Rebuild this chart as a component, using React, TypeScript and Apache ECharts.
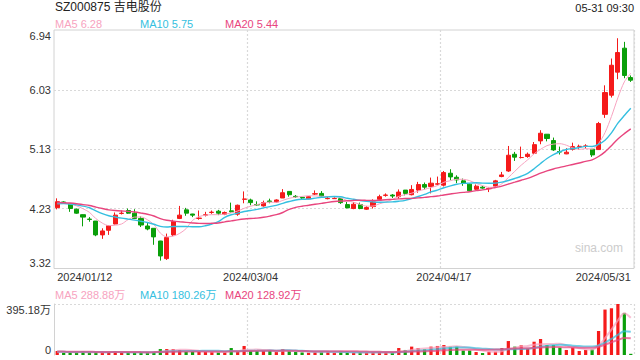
import React, { useEffect, useRef } from "react";
import * as echarts from "echarts";

const dates = [
  "2024/01/12", "2024/01/15", "2024/01/16", "2024/01/17", "2024/01/18", "2024/01/19",
  "2024/01/22", "2024/01/23", "2024/01/24", "2024/01/25", "2024/01/26",
  "2024/01/29", "2024/01/30", "2024/01/31", "2024/02/01", "2024/02/02",
  "2024/02/05", "2024/02/06", "2024/02/07", "2024/02/08",
  "2024/02/19", "2024/02/20", "2024/02/21", "2024/02/22", "2024/02/23",
  "2024/02/26", "2024/02/27", "2024/02/28", "2024/02/29", "2024/03/01",
  "2024/03/04", "2024/03/05", "2024/03/06", "2024/03/07", "2024/03/08",
  "2024/03/11", "2024/03/12", "2024/03/13", "2024/03/14", "2024/03/15",
  "2024/03/18", "2024/03/19", "2024/03/20", "2024/03/21", "2024/03/22",
  "2024/03/25", "2024/03/26", "2024/03/27", "2024/03/28", "2024/03/29",
  "2024/04/01", "2024/04/02", "2024/04/03",
  "2024/04/08", "2024/04/09", "2024/04/10", "2024/04/11", "2024/04/12",
  "2024/04/15", "2024/04/16", "2024/04/17", "2024/04/18", "2024/04/19",
  "2024/04/22", "2024/04/23", "2024/04/24", "2024/04/25", "2024/04/26",
  "2024/04/29", "2024/04/30",
  "2024/05/06", "2024/05/07", "2024/05/08", "2024/05/09", "2024/05/10",
  "2024/05/13", "2024/05/14", "2024/05/15", "2024/05/16", "2024/05/17",
  "2024/05/20", "2024/05/21", "2024/05/22", "2024/05/23", "2024/05/24",
  "2024/05/27", "2024/05/28", "2024/05/29", "2024/05/30", "2024/05/31",
];

// [open, close, low, high]
const ohlc: number[][] = [
  [4.243, 4.334, 4.218, 4.385], [4.33, 4.31, 4.30, 4.34], [4.30, 4.23, 4.18, 4.31],
  [4.22, 4.16, 4.15, 4.23], [4.137, 4.10, 3.96, 4.14], [4.07, 4.065, 4.03, 4.10],
  [4.04, 3.83, 3.81, 4.04], [3.83, 3.89, 3.77, 3.93], [3.90, 3.97, 3.83, 3.98],
  [3.995, 4.13, 3.99, 4.17], [4.155, 4.16, 4.14, 4.20], [4.20, 4.16, 4.15, 4.23],
  [4.16, 4.08, 4.07, 4.22], [4.08, 3.98, 3.95, 4.11], [3.965, 3.92, 3.90, 4.01],
  [3.93, 3.80, 3.68, 3.93], [3.737, 3.51, 3.44, 3.74], [3.47, 3.79, 3.45, 3.85],
  [3.83, 4.035, 3.81, 4.06], [4.08, 4.13, 4.07, 4.27], [4.21, 4.16, 4.12, 4.24],
  [4.147, 4.13, 4.10, 4.15], [4.08, 4.085, 4.06, 4.20], [4.13, 4.135, 4.11, 4.18],
  [4.17, 4.175, 4.15, 4.20], [4.19, 4.16, 4.13, 4.21], [4.145, 4.17, 4.13, 4.185],
  [4.195, 4.18, 4.17, 4.32], [4.145, 4.28, 4.12, 4.29], [4.37, 4.375, 4.31, 4.49],
  [4.36, 4.32, 4.28, 4.38], [4.29, 4.285, 4.27, 4.34], [4.27, 4.32, 4.26, 4.35],
  [4.345, 4.335, 4.31, 4.38], [4.33, 4.36, 4.32, 4.37], [4.39, 4.47, 4.39, 4.525],
  [4.49, 4.44, 4.41, 4.49], [4.415, 4.41, 4.39, 4.435], [4.40, 4.39, 4.37, 4.41],
  [4.378, 4.41, 4.37, 4.42], [4.45, 4.455, 4.435, 4.505], [4.46, 4.42, 4.41, 4.495],
  [4.38, 4.385, 4.37, 4.41], [4.38, 4.385, 4.375, 4.40], [4.38, 4.32, 4.30, 4.38],
  [4.29, 4.24, 4.235, 4.33], [4.23, 4.295, 4.22, 4.33], [4.29, 4.23, 4.22, 4.32],
  [4.22, 4.245, 4.21, 4.27], [4.26, 4.33, 4.23, 4.37], [4.37, 4.41, 4.36, 4.44],
  [4.43, 4.435, 4.41, 4.46], [4.435, 4.42, 4.39, 4.45], [4.41, 4.48, 4.38, 4.52],
  [4.51, 4.46, 4.43, 4.51], [4.44, 4.52, 4.43, 4.585], [4.51, 4.594, 4.47, 4.635],
  [4.594, 4.555, 4.52, 4.625], [4.565, 4.615, 4.46, 4.70], [4.60, 4.605, 4.585, 4.715],
  [4.585, 4.776, 4.565, 4.80], [4.766, 4.71, 4.66, 4.827], [4.705, 4.665, 4.615, 4.735],
  [4.65, 4.615, 4.575, 4.685], [4.60, 4.50, 4.495, 4.61], [4.523, 4.57, 4.513, 4.595],
  [4.555, 4.54, 4.53, 4.575], [4.53, 4.535, 4.48, 4.55], [4.57, 4.65, 4.56, 4.665],
  [4.716, 4.74, 4.705, 4.786], [4.80, 5.039, 4.786, 5.18], [5.054, 5.01, 4.953, 5.09],
  [5.004, 5.005, 4.99, 5.17], [5.02, 5.054, 5.0, 5.08], [5.07, 5.20, 5.055, 5.24],
  [5.257, 5.373, 5.206, 5.419], [5.358, 5.293, 5.25, 5.36], [5.262, 5.12, 5.105, 5.307],
  [5.095, 5.087, 5.05, 5.17], [5.06, 5.085, 5.055, 5.146], [5.13, 5.17, 5.11, 5.23],
  [5.17, 5.175, 5.12, 5.20], [5.175, 5.18, 5.14, 5.206], [5.13, 5.044, 5.014, 5.13],
  [5.125, 5.52, 5.12, 5.545], [5.66, 5.99, 5.606, 6.10], [5.95, 6.405, 5.915, 6.507],
  [6.30, 6.598, 6.193, 6.815], [6.664, 6.25, 6.208, 6.76], [6.218, 6.178, 6.152, 6.25],
];

// closes of the 19 sessions before the first visible one (estimated, for MA warm-up)
const priorCloses = [
  4.36, 4.33, 4.35, 4.38, 4.34, 4.31, 4.33, 4.36, 4.34, 4.30,
  4.27, 4.29, 4.30, 4.28, 4.32, 4.29, 4.31, 4.30, 4.32,
];

// volume, in 万
const volumes = [
  31, 18, 18, 20, 30, 18, 22, 20, 22, 31,
  18, 20, 18, 20, 22, 24, 46, 46, 46, 39,
  26, 26, 24, 26, 24, 21, 21, 54, 26, 70,
  31, 31, 31, 31, 23, 44, 31, 23, 20, 18,
  23, 26, 26, 18, 26, 18, 18, 21, 18, 21,
  23, 18, 18, 54, 39, 65, 54, 44, 65, 70,
  77, 65, 65, 34, 34, 23, 15, 26, 26, 54,
  108, 65, 75, 49, 103, 124, 77, 77, 57, 39,
  59, 31, 39, 44, 186, 352, 362, 395.18, 326, 9.2,
];
const priorVolumes = [
  28, 32, 25, 30, 27, 35, 24, 29, 31, 26,
  22, 25, 28, 24, 21, 26, 23, 25, 22,
];

const priceTicks = [3.32, 4.23, 5.13, 6.03, 6.94];
const volumeTickLabels = ["0", "395.18万"];
const xLabelIndexes = [0, 30, 60, 89];
const xSplitIndexes = [30, 60];

const titleText = "SZ000875 吉电股份";
const timeText = "05-31 09:30";
const priceLegend = ["MA5 6.28", "MA10 5.75", "MA20 5.44"];
const volumeLegend = ["MA5 288.88万", "MA10 180.26万", "MA20 128.92万"];
const maPeriods = [5, 10, 20];

const UP = "#f51a1a";
const DOWN = "#0a9f0a";
const MA_COLORS = ["#f7a3c0", "#35bfe0", "#e8457e"];
const FONT = 'Arial, "Liberation Sans", "Noto Sans CJK SC", sans-serif';

function movingAverage(prior: number[], vals: number[], n: number): number[] {
  const all = prior.concat(vals);
  return vals.map((_, i) => {
    const end = prior.length + i;
    let s = 0;
    for (let k = end - n + 1; k <= end; k++) s += all[k];
    return +(s / n).toFixed(4);
  });
}

export default function App() {
  const ref = useRef<HTMLDivElement>(null);

  useEffect(() => {
    if (!ref.current) return;
    const chart = echarts.init(ref.current, undefined, { renderer: "svg" });
    const closes = ohlc.map((d) => d[1]);
    const candleData = ohlc.map((d) => [d[0], d[1], d[2], d[3]]);
    const volData = volumes.map((v, i) => ({
      value: v,
      itemStyle: { color: ohlc[i][1] >= ohlc[i][0] ? UP : DOWN },
    }));

    const dotted = { type: [2, 2] as any, color: "#d9d9d9", width: 1.2 };

    const priceMA = maPeriods.map((n, k) => ({
      type: "line",
      name: "pMA" + n,
      xAxisIndex: 0,
      yAxisIndex: 0,
      data: movingAverage(priorCloses, closes, n),
      showSymbol: false,
      smooth: 0.3,
      z: 5,
      lineStyle: { color: MA_COLORS[k], width: k === 0 ? 1 : 1.4 },
    }));
    const volMA = maPeriods.map((n, k) => ({
      type: "line",
      name: "vMA" + n,
      xAxisIndex: 1,
      yAxisIndex: 1,
      data: movingAverage(priorVolumes, volumes, n),
      showSymbol: false,
      smooth: 0.3,
      z: 5,
      lineStyle: { color: MA_COLORS[k], width: 2, opacity: 0.7 },
    }));

    const legendTexts = (arr: string[], y: number) =>
      arr.map((t, k) => ({
        type: "text",
        left: 55 + k * 85,
        top: y,
        style: { text: t, fill: MA_COLORS[k], font: `11px ${FONT}` },
      }));

    const option: any = {
      animation: false,
      backgroundColor: "#ffffff",
      textStyle: { fontFamily: FONT },
      grid: [
        { left: 54, right: 6, top: 30, height: 238.5, show: true, borderColor: "#d2d2d2", borderWidth: 1 },
        { left: 54, right: 6, top: 304, height: 51 },
      ],
      xAxis: [
        {
          type: "category",
          gridIndex: 0,
          data: dates,
          boundaryGap: true,
          axisLine: { show: false },
          axisTick: { show: false },
          axisLabel: {
            interval: (i: number) => xLabelIndexes.includes(i),
            color: "#333",
            fontSize: 11,
            margin: 3,
            fontFamily: FONT,
            showMinLabel: true,
            showMaxLabel: true,
            alignMinLabel: "left",
            alignMaxLabel: "right",
          },
          splitLine: { show: true, interval: (i: number) => xSplitIndexes.includes(i), lineStyle: dotted },
        },
        {
          type: "category",
          gridIndex: 1,
          data: dates,
          boundaryGap: true,
          axisLine: { show: false },
          axisTick: { show: false },
          axisLabel: { show: false },
          splitLine: { show: true, interval: (i: number) => xSplitIndexes.includes(i), lineStyle: dotted },
        },
      ],
      yAxis: [
        {
          type: "value",
          gridIndex: 0,
          min: priceTicks[0],
          max: priceTicks[priceTicks.length - 1],
          axisLine: { show: false },
          axisTick: { show: false, customValues: priceTicks },
          axisLabel: {
            customValues: priceTicks,
            formatter: (v: number) => v.toFixed(2),
            color: "#333",
            fontSize: 11,
            margin: 3,
            fontFamily: FONT,
            verticalAlignMinLabel: "bottom",
            verticalAlignMaxLabel: "top",
          },
          splitLine: { show: true, showMinLine: false, showMaxLine: false, lineStyle: dotted },
        },
        {
          type: "value",
          gridIndex: 1,
          min: 0,
          max: 395.18,
          interval: 395.18,
          axisLine: { show: true, lineStyle: { color: "#d2d2d2" } },
          axisTick: { show: false },
          axisLabel: {
            formatter: (v: number) => (v > 0 ? volumeTickLabels[1] : volumeTickLabels[0]),
            color: "#333",
            fontSize: 11,
            margin: 3,
            fontFamily: FONT,
            verticalAlignMinLabel: "bottom",
            verticalAlignMaxLabel: "top",
          },
          splitLine: { show: true, showMinLine: false, lineStyle: dotted },
        },
      ],
      series: [
        {
          type: "candlestick",
          xAxisIndex: 0,
          yAxisIndex: 0,
          data: candleData,
          barWidth: "70%",
          z: 3,
          itemStyle: { color: UP, color0: DOWN, borderColor: UP, borderColor0: DOWN, borderWidth: 1 },
        },
        ...priceMA,
        {
          type: "bar",
          xAxisIndex: 1,
          yAxisIndex: 1,
          data: volData,
          barWidth: "50%",
          z: 3,
        },
        ...volMA,
      ],
      graphic: [
        { type: "text", left: 55, top: 1, style: { text: titleText, fill: "#222", font: `12px ${FONT}` } },
        { type: "text", right: 6, top: 2, style: { text: timeText, fill: "#222", font: `11px ${FONT}` } },
        ...legendTexts(priceLegend, 18),
        ...legendTexts(volumeLegend, 289),
        { type: "text", right: 17, top: 242, style: { text: "sina.com", fill: "#cccccc", font: `12px ${FONT}` } },
      ],
    };
    chart.setOption(option);
    return () => chart.dispose();
  }, []);

  return (
    <div
      ref={ref}
      style={{ position: "absolute", left: 0, top: 0, width: 640, height: 360, background: "#fff" }}
    />
  );
}
